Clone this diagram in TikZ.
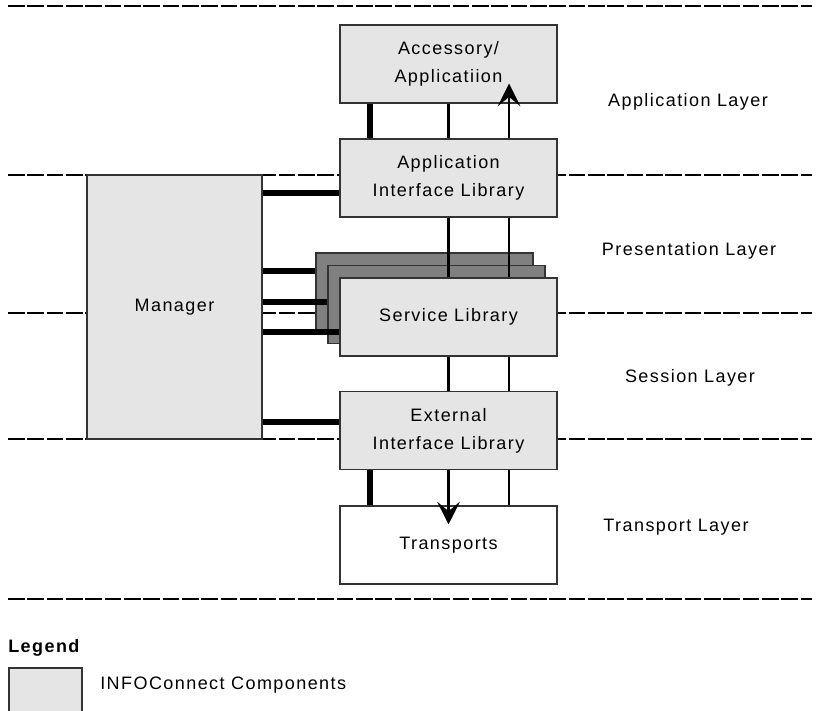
\documentclass[tikz,border=0pt]{standalone}
\usepackage{fontspec}
\setmainfont{Liberation Sans}[LetterSpace=8]
\usetikzlibrary{arrows.meta, positioning}
\tikzset{
    component/.style={
        rectangle, draw=black!80, line width=0.8pt,
        minimum width=162.75pt, minimum height=58.5pt,
        fill=black!10, align=center, inner sep=0pt,
        font=\fontsize{13.5pt}{21pt}\selectfont
    },
    shadowbox/.style={component, fill=black!50},
    external/.style={component, fill=white},
    layerline/.style={draw=black, line width=1.5pt, dash pattern=on 12.5pt off 2pt},
    layerlabel/.style={anchor=base, inner sep=0pt, font=\fontsize{13.5pt}{16pt}\selectfont},
    link/.style={draw=black, line width=1.6pt},
    bus/.style={draw=black, line width=4pt},
    flow/.style={draw=black, line width=1.6pt, -{Stealth[length=17pt, width=17pt, inset=7pt]}}
}

\begin{document}
\begin{tikzpicture}[x=0.75pt, y=-0.75pt]
\useasboundingbox (0,0) rectangle (816,710);
\clip (0,0) rectangle (816,710);

% Layer separators
\foreach \y in {6,175,313,439,599}
    \draw[layerline] (8,\y) -- (812,\y);

% Layer names
\node[layerlabel] (applayer) at (688,106) {Application Layer};
\node[layerlabel] (preslayer) at (689,255) {Presentation Layer};
\node[layerlabel] (sesslayer) at (690,382) {Session Layer};
\node[layerlabel] (translayer) at (676,531) {Transport Layer};

% Manager column
\node[component, minimum width=131.25pt, minimum height=198pt] (mgr) at (174.5,307) {Manager};

% Main stack
\node[component] (app) at (448.5,64) {Accessory/\\Applicatiion};
\node[component] (ail) at (448.5,178) {Application\\Interface Library};
\node[shadowbox] (svcback2) at (424.5,292) {};
\node[shadowbox] (svcback1) at (436.5,304.5) {};
\node[component] (svc) at (448.5,317) {Service Library};
\node[component] (eil) at (448.5,430.5) {External\\Interface Library};
\node[external] (trans) at (448.5,545) {Transports};

% Manager links
\foreach \lib/\dy in {ail/-11.25, svcback2/15.75, svcback1/1.9, svc/-11.25, eil/6.4} {
    \coordinate (m) at ([yshift=\dy pt]\lib.west);
    \draw[bus] (m) -- (m -| mgr.east);
}

% Stack links
\draw[bus] ([xshift=-59pt]app.south) -- ([xshift=-59pt]ail.north);
\draw[link] (app.south) -- (ail.north);
\draw[flow] ([xshift=45.4pt]ail.north) -- ([xshift=45.4pt, yshift=15pt]app.south);

\draw[link] (ail.south) -- (svc.north);
\draw[link] ([xshift=45.4pt]ail.south) -- ([xshift=45.4pt]svc.north);

\draw[link] (svc.south) -- (eil.north);
\draw[link] ([xshift=45.4pt]svc.south) -- ([xshift=45.4pt]eil.north);

\draw[bus] ([xshift=-59pt]eil.south) -- ([xshift=-59pt]trans.north);
\draw[flow] (eil.south) -- ([yshift=-14.25pt]trans.north);
\draw[link] ([xshift=45.4pt]eil.south) -- ([xshift=45.4pt]trans.north);

% Legend
\node[anchor=base west, inner sep=0pt, font=\fontsize{13.5pt}{16pt}\selectfont\bfseries] (legend) at (8,652) {Legend};
\node[component, minimum width=54.75pt, minimum height=39pt] (legendbox) at (45.5,694) {};
\node[anchor=base west, inner sep=0pt, font=\fontsize{13.5pt}{16pt}\selectfont] (legendtext) at (100,689) {INFOConnect Components};

\end{tikzpicture}
\end{document}
